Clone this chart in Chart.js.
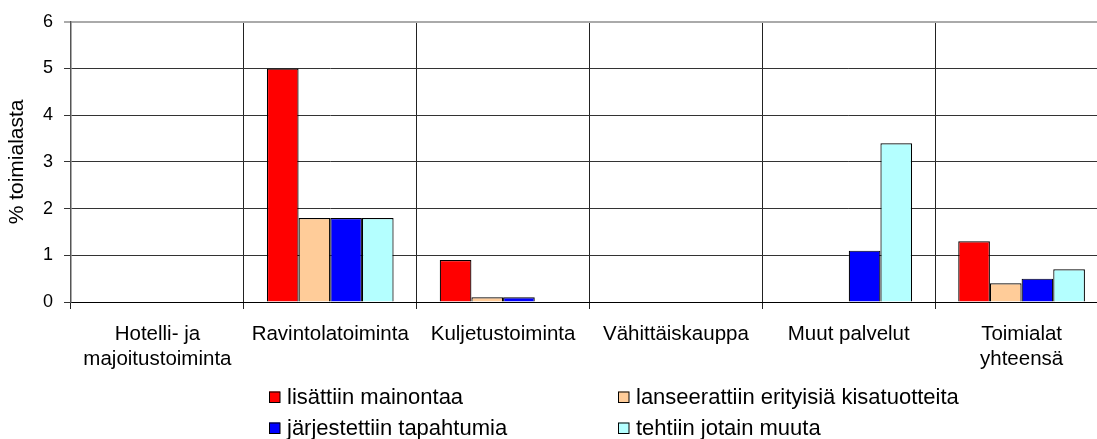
<!DOCTYPE html>
<html lang="fi">
<head>
<meta charset="utf-8">
<title>Toimialat</title>
<script src="https://cdn.jsdelivr.net/npm/chart.js@4/dist/chart.umd.min.js"></script>
<style>
  html, body { margin: 0; padding: 0; background: #fff; overflow: hidden; }
  #wrap { width: 1112px; height: 439px; }
</style>
</head>
<body>
<div id="wrap"><canvas id="c" width="1112" height="439"></canvas></div>
<script>
// Categories (multi-line labels as arrays)
const categories = [
  ["Hotelli- ja", "majoitustoiminta"],
  "Ravintolatoiminta",
  "Kuljetustoiminta",
  "Vähittäiskauppa",
  "Muut palvelut",
  ["Toimialat", "yhteensä"]
];

const seriesNames = [
  "lisättiin mainontaa",
  "lanseerattiin erityisiä kisatuotteita",
  "järjestettiin tapahtumia",
  "tehtiin jotain muuta"
];

const mainonta      = [0, 5.0, 0.9, 0, 0,   1.3];
const kisatuotteet  = [0, 1.8, 0.1, 0, 0,   0.4];
const tapahtumat    = [0, 1.8, 0.1, 0, 1.1, 0.5];
const muuta         = [0, 1.8, 0,   0, 3.4, 0.7];

const yTicks = [0, 1, 2, 3, 4, 5, 6];

const colors = ["#ff0000", "#ffcc99", "#0000ff", "#b4ffff"];
const seriesValues = [mainonta, kisatuotteet, tapahtumat, muuta];

const FONT = "'Liberation Sans', Arial, sans-serif";

const datasets = seriesValues.map((vals, i) => ({
  label: seriesNames[i],
  data: vals,
  backgroundColor: colors[i],
  borderColor: "#000",
  borderWidth: ctx => (ctx.raw === 0 ? 0 : 1.2),
  categoryPercentage: 0.733,
  barPercentage: 1.0
}));

// Two-column legend below the axis
const legendPlugin = {
  id: "twoColLegend",
  afterDraw(chart) {
    const ctx = chart.ctx;
    const area = chart.chartArea;
    const cols = [269, 618];
    const rows = [area.bottom + 95, area.bottom + 126];
    ctx.save();
    ctx.font = "22px " + FONT;
    ctx.textBaseline = "middle";
    ctx.textAlign = "left";
    chart.data.datasets.forEach((ds, i) => {
      const x = cols[i % 2];
      const y = rows[Math.floor(i / 2)];
      ctx.fillStyle = ds.backgroundColor;
      ctx.fillRect(x, y - 5.5, 11, 11);
      ctx.strokeStyle = "#000";
      ctx.lineWidth = 1;
      ctx.strokeRect(x + 0.5, y - 5, 10.5, 10.5);
      ctx.fillStyle = "#000";
      ctx.fillText(ds.label, x + 18, y + 1);
    });
    ctx.restore();
  }
};

new Chart(document.getElementById("c"), {
  type: "bar",
  data: { labels: categories, datasets },
  plugins: [legendPlugin],
  options: {
    responsive: false,
    animation: false,
    layout: { padding: { top: 19, left: 0, right: 4, bottom: 0 } },
    plugins: {
      legend: { display: false },
      tooltip: { enabled: false }
    },
    scales: {
      x: {
        offset: true,
        grid: {
          offset: true,
          color: "#222",
          lineWidth: 1,
          tickLength: 7,
          drawTicks: true
        },
        border: { color: "#000", width: 1 },
        ticks: {
          color: "#000",
          font: { family: FONT, size: 20.5 },
          maxRotation: 0,
          minRotation: 0,
          autoSkip: false,
          padding: 13
        },
        afterFit(scale) { scale.height = 137; }
      },
      y: {
        min: 0,
        max: 6,
        afterBuildTicks(scale) { scale.ticks = yTicks.map(v => ({ value: v })); },
        grid: {
          color: ctx => (ctx.tick && ctx.tick.value === 6 ? "#aaa" : "#333"),
          lineWidth: ctx => (ctx.tick && ctx.tick.value === 6 ? 2 : 1),
          tickLength: 7
        },
        border: { color: "#555", width: 1.5 },
        ticks: {
          color: "#000",
          font: { family: FONT, size: 18 },
          padding: 11
        },
        title: {
          display: true,
          text: "% toimialasta",
          color: "#000",
          font: { family: FONT, size: 21 },
          padding: { top: 5, bottom: 0 }
        },
        afterFit(scale) { scale.width = 71; }
      }
    }
  }
});
</script>
</body>
</html>
